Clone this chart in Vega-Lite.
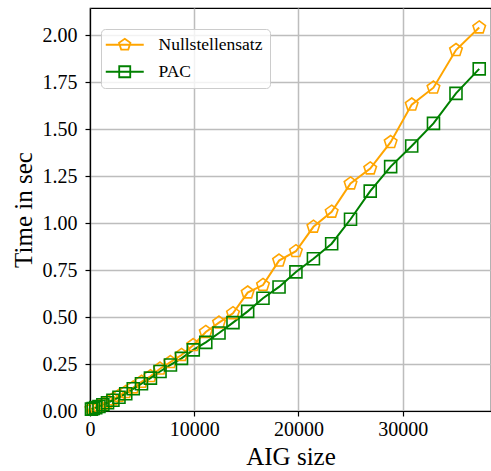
{
  "$schema": "https://vega.github.io/schema/vega-lite/v6.json",
  "width": 401,
  "height": 403,
  "autosize": "none",
  "padding": {"left": 90, "top": 8, "right": 0, "bottom": 60},
  "background": "white",
  "config": {
    "font": "Liberation Serif",
    "view": {"stroke": "black", "strokeWidth": 1.2},
    "axis": {
      "labelFont": "Liberation Serif",
      "titleFont": "Liberation Serif",
      "labelFontSize": 20,
      "titleFontSize": 25,
      "titleFontWeight": "normal",
      "labelColor": "black",
      "titleColor": "black",
      "domainColor": "black",
      "domainWidth": 1.2,
      "tickColor": "black",
      "tickWidth": 1.2,
      "tickSize": 5,
      "labelPadding": 3,
      "labelFlush": false,
      "gridColor": "#bdbdbd",
      "gridWidth": 1.5
    },
    "legend": {
      "labelFont": "Liberation Serif",
      "labelFontSize": 17.5,
      "labelColor": "black"
    }
  },
  "data": {
    "values": [
      {"size": 140, "Nullstellensatz": 0.012, "PAC": 0.010},
      {"size": 310, "Nullstellensatz": 0.015, "PAC": 0.013},
      {"size": 550, "Nullstellensatz": 0.020, "PAC": 0.018},
      {"size": 860, "Nullstellensatz": 0.027, "PAC": 0.024},
      {"size": 1235, "Nullstellensatz": 0.036, "PAC": 0.033},
      {"size": 1680, "Nullstellensatz": 0.048, "PAC": 0.044},
      {"size": 2200, "Nullstellensatz": 0.062, "PAC": 0.057},
      {"size": 2780, "Nullstellensatz": 0.080, "PAC": 0.073},
      {"size": 3430, "Nullstellensatz": 0.100, "PAC": 0.092},
      {"size": 4150, "Nullstellensatz": 0.125, "PAC": 0.118},
      {"size": 4940, "Nullstellensatz": 0.155, "PAC": 0.145},
      {"size": 5800, "Nullstellensatz": 0.185, "PAC": 0.175},
      {"size": 6720, "Nullstellensatz": 0.225, "PAC": 0.210},
      {"size": 7720, "Nullstellensatz": 0.260, "PAC": 0.245},
      {"size": 8780, "Nullstellensatz": 0.298, "PAC": 0.280},
      {"size": 9910, "Nullstellensatz": 0.350, "PAC": 0.325},
      {"size": 11110, "Nullstellensatz": 0.420, "PAC": 0.365},
      {"size": 12380, "Nullstellensatz": 0.470, "PAC": 0.415},
      {"size": 13720, "Nullstellensatz": 0.520, "PAC": 0.470},
      {"size": 15130, "Nullstellensatz": 0.630, "PAC": 0.530},
      {"size": 16600, "Nullstellensatz": 0.670, "PAC": 0.600},
      {"size": 18140, "Nullstellensatz": 0.800, "PAC": 0.660},
      {"size": 19760, "Nullstellensatz": 0.850, "PAC": 0.740},
      {"size": 21440, "Nullstellensatz": 0.980, "PAC": 0.810},
      {"size": 23190, "Nullstellensatz": 1.060, "PAC": 0.890},
      {"size": 25000, "Nullstellensatz": 1.210, "PAC": 1.020},
      {"size": 26890, "Nullstellensatz": 1.290, "PAC": 1.170},
      {"size": 28850, "Nullstellensatz": 1.430, "PAC": 1.300},
      {"size": 30870, "Nullstellensatz": 1.630, "PAC": 1.410},
      {"size": 32960, "Nullstellensatz": 1.720, "PAC": 1.530},
      {"size": 35120, "Nullstellensatz": 1.920, "PAC": 1.690},
      {"size": 37350, "Nullstellensatz": 2.040, "PAC": 1.820}
    ]
  },
  "transform": [
    {"fold": ["Nullstellensatz", "PAC"], "as": ["method", "time"]}
  ],
  "encoding": {
    "x": {
      "field": "size",
      "type": "quantitative",
      "scale": {"domain": [0, 38480], "nice": false, "zero": false},
      "axis": {"title": "AIG size", "values": [0, 10000, 20000, 30000], "format": "d", "titlePadding": 5}
    },
    "y": {
      "field": "time",
      "type": "quantitative",
      "scale": {"domain": [0, 2.144], "nice": false},
      "axis": {"title": "Time in sec", "values": [0, 0.25, 0.5, 0.75, 1, 1.25, 1.5, 1.75, 2], "format": ".2f", "labelPadding": 8, "titlePadding": 6}
    }
  },
  "layer": [
    {
      "mark": {"type": "line", "strokeWidth": 2},
      "encoding": {
        "color": {
          "field": "method",
          "type": "nominal",
          "scale": {"domain": ["Nullstellensatz", "PAC"], "range": ["#FFA500", "#008000"]},
          "legend": {
            "title": null,
            "orient": "none",
            "legendX": 11,
            "legendY": 21,
            "padding": 7,
            "strokeColor": "#cccccc",
            "fillColor": "rgba(255,255,255,0.8)",
            "cornerRadius": 4,
            "symbolSize": 144,
            "symbolStrokeWidth": 1.8,
            "symbolFillColor": "transparent",
            "symbolType": {"expr": "datum.value === 'PAC' ? 'M-1.83,0L4.5,0M0.41,-0.92H2.25V0.92H0.41Z' : 'M-1.83,0L4.5,0M1.33,-1L2.28,-0.31L1.92,0.81L0.74,0.81L0.38,-0.31Z'"},
            "labelOffset": 33,
            "rowPadding": 8
          }
        }
      }
    },
    {
      "transform": [{"filter": "datum.method === 'Nullstellensatz'"}],
      "mark": {"type": "point", "filled": false, "strokeWidth": 1.6, "size": 144, "opacity": 1, "color": "#FFA500", "shape": "M0,-1.1L1.046,-0.34L0.647,0.89L-0.647,0.89L-1.046,-0.34Z"}
    },
    {
      "transform": [{"filter": "datum.method === 'PAC'"}],
      "mark": {"type": "point", "filled": false, "strokeWidth": 1.6, "size": 144, "opacity": 1, "color": "#008000", "shape": "square"}
    }
  ]
}
